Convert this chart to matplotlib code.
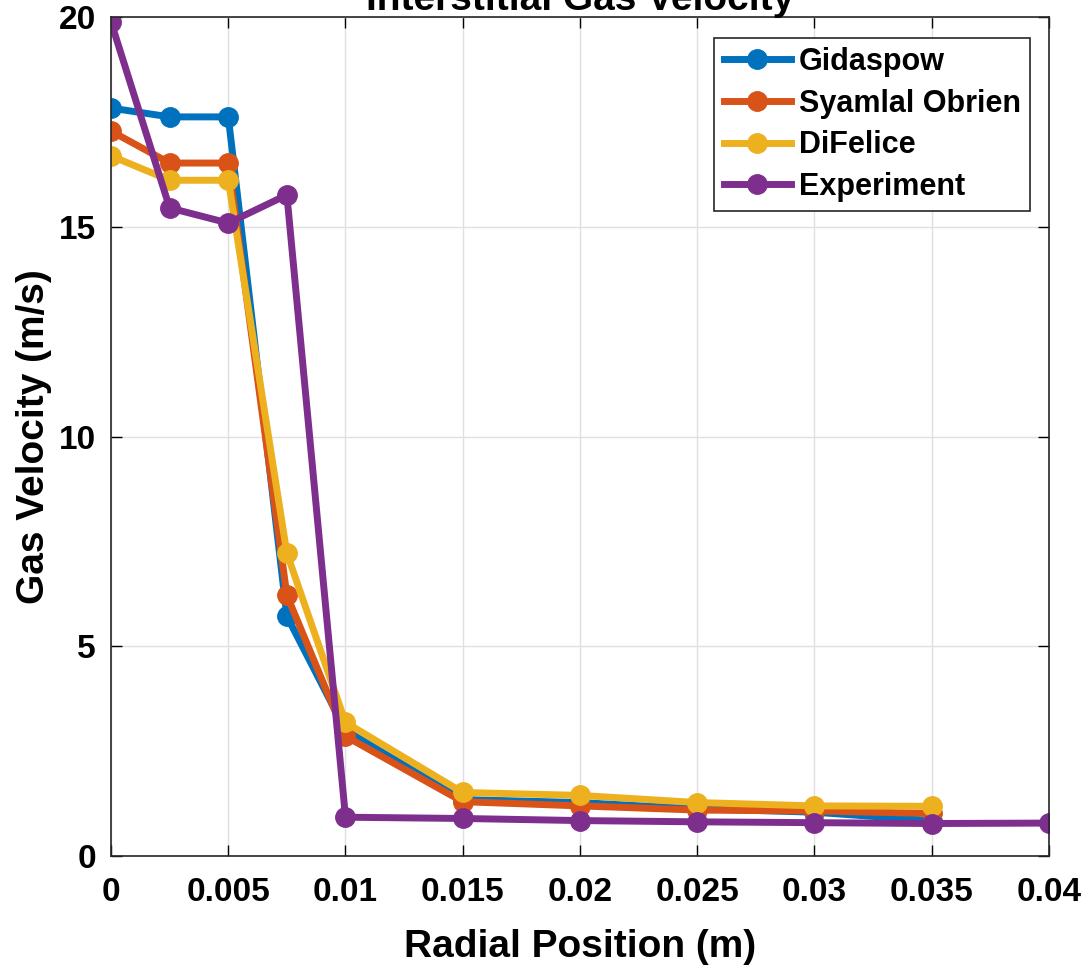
import matplotlib.pyplot as plt
import numpy as np

plt.rcParams['font.family'] = ['Liberation Sans', 'DejaVu Sans']
plt.rcParams['font.weight'] = 'bold'

# radial positions (m)
r_model = [0, 0.0025, 0.005, 0.0075, 0.01, 0.015, 0.02, 0.025, 0.03, 0.035]
r_exp = [0, 0.0025, 0.005, 0.0075, 0.01, 0.015, 0.02, 0.025, 0.03, 0.035, 0.04]

# gas velocity (m/s)
gidaspow = [17.83, 17.62, 17.62, 5.72, 3.0, 1.35, 1.28, 1.13, 1.05, 0.85]
syamlal = [17.28, 16.52, 16.52, 6.22, 2.86, 1.3, 1.2, 1.1, 1.08, 1.02]
difelice = [16.69, 16.11, 16.11, 7.22, 3.19, 1.52, 1.45, 1.28, 1.2, 1.19]
experiment = [19.88, 15.45, 15.09, 15.76, 0.93, 0.9, 0.85, 0.82, 0.8, 0.78, 0.79]

fig = plt.figure(figsize=(10.89, 9.73), dpi=100)
ax = fig.add_axes([0.102, 0.12, 0.861, 0.8625])

style = dict(lw=5, marker='o', ms=14)
ax.plot(r_model, gidaspow, color='#0072BD', label='Gidaspow', **style)
ax.plot(r_model, syamlal, color='#D95319', label='Syamlal Obrien', **style)
ax.plot(r_model, difelice, color='#EDB120', label='DiFelice', **style)
ax.plot(r_exp, experiment, color='#7E2F8E', label='Experiment', **style)

ax.set_xlim(0, 0.04)
ax.set_ylim(0, 20)
ax.set_xticks(np.arange(0, 0.0401, 0.005))
ax.set_xticklabels(['0', '0.005', '0.01', '0.015', '0.02', '0.025', '0.03', '0.035', '0.04'])
ax.set_yticks([0, 5, 10, 15, 20])
ax.tick_params(direction='in', labelsize=24, length=8, width=1, top=True, right=True)
ax.tick_params(axis='x', pad=15)
ax.tick_params(axis='y', pad=11)
ax.grid(True, color='#e0e0e0', lw=1)
for s in ax.spines.values():
    s.set_linewidth(1.2)
    s.set_color('#262626')

ax.set_xlabel('Radial Position (m)', fontsize=28, fontweight='bold', labelpad=15)
ax.set_ylabel('Gas Velocity (m/s)', fontsize=28, fontweight='bold', labelpad=5)
fig.text(0.533, 0.99, 'Interstitial Gas Velocity', fontsize=28, fontweight='bold',
         ha='center', va='baseline')

leg = ax.legend(loc='upper right', fontsize=22, handlelength=2.2, borderpad=0.3,
                labelspacing=0.38, handletextpad=0.26, fancybox=False, framealpha=1,
                borderaxespad=0, bbox_to_anchor=(0.98, 0.975))
leg.get_frame().set_edgecolor('#262626')
leg.get_frame().set_linewidth(1.2)
for t in leg.get_texts():
    t.set_fontweight('bold')

fig.savefig('out.png', dpi=100)
